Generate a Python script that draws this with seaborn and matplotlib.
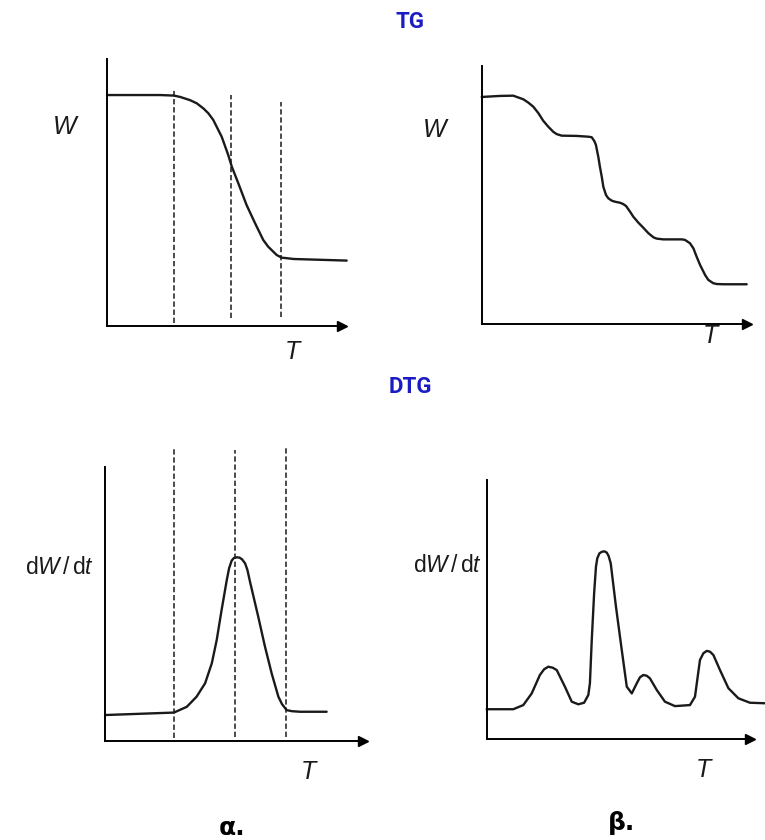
import numpy as np
import pandas as pd
import matplotlib
matplotlib.use('Agg')
import matplotlib.pyplot as plt
import seaborn as sns

# TG, single step (a)
tg_a_T = [0, 22.6, 28.5, 31.1, 35.3, 38.2, 41.0, 43.1, 45.2, 48.8, 51.6, 53.1,
          55.9, 59.4, 63.0, 66.5, 68.6, 70.8, 72.2, 74.3, 76.5, 79.3, 102.0]
tg_a_W = [86.5, 86.5, 86.3, 85.8, 84.6, 83.4, 81.5, 79.7, 77.2, 70.9, 64.0, 59.7,
          53.4, 45.3, 38.5, 32.2, 29.7, 27.8, 26.6, 25.6, 25.4, 25.1, 24.5]
tg_a_marks = [28.5, 52.6, 74.0]
tg_a_marks_top = [88.4, 86.5, 83.9]
tg_a_marks_bot = [1.1, 3.0, 3.4]

# TG, multi step (b)
tg_b_T = [0, 6.9, 11.9, 15.7, 17.6, 19.5, 21.4, 23.2, 25.1, 27.0, 28.3, 30.2,
          35.8, 40.2, 41.5, 42.5, 43.1, 44.0, 44.6, 45.3, 45.9, 46.9, 47.8,
          49.1, 50.3, 52.2, 53.4, 54.5, 56.0, 57.2, 59.1, 61.0, 62.9, 64.8,
          66.0, 68.5, 75.5, 76.7, 78.6, 79.9, 81.1, 82.4, 84.3, 85.5, 87.4,
          88.7, 91.2, 100.0]
tg_b_W = [88.0, 88.4, 88.5, 87.1, 85.8, 84.2, 81.7, 78.8, 76.5, 74.5, 73.6, 73.0,
          72.9, 72.6, 72.4, 70.9, 69.4, 64.8, 61.0, 57.1, 53.2, 50.0, 48.7,
          47.8, 47.4, 47.0, 46.5, 45.7, 43.5, 41.6, 39.3, 37.3, 35.2, 33.6,
          33.1, 32.8, 32.8, 32.6, 31.3, 29.3, 26.1, 22.9, 19.0, 17.1, 15.8,
          15.5, 15.4, 15.4]

# DTG, single peak (a)
dtg_a_T = [0, 26.7, 31.7, 35.5, 38.8, 41.4, 43.3, 45.2, 47.2, 48.1, 49.1, 50.0,
           51.0, 52.1, 53.1, 54.3, 55.2, 56.2, 59.4, 62.0, 64.6, 67.2, 68.6,
           70.4, 72.5, 75.6, 85.9]
dtg_a_R = [9.3, 10.2, 12.3, 16.0, 20.9, 28.2, 36.7, 47.7, 58.6, 62.9, 65.7, 66.7,
           66.9, 66.8, 66.2, 64.7, 62.3, 58.0, 45.2, 34.3, 24.5, 16.0, 13.3,
           11.1, 10.7, 10.5, 10.5]
dtg_a_marks = [26.7, 50.4, 70.0]
dtg_a_marks_top = [107.3, 106.1, 107.2]
dtg_a_marks_bot = [0.9, 1.4, 1.3]

# DTG, several peaks (b)
dtg_b_T = [0, 10.1, 13.9, 17.1, 20.2, 21.8, 23.4, 25.1, 26.6, 29.7, 32.3, 34.8,
           37.0, 38.6, 39.2, 39.9, 40.8, 41.5, 42.0, 42.8, 43.7, 44.7, 45.6,
           46.3, 47.1, 49.1, 51.3, 53.2, 55.1, 57.0, 58.2, 59.5, 60.8, 62.0,
           64.6, 67.7, 71.5, 77.2, 79.1, 81.0, 82.3, 83.6, 84.8, 86.1, 88.6,
           91.8, 95.6, 100.0, 105.7]
dtg_b_R = [11.6, 11.6, 13.2, 17.7, 24.8, 27.0, 28.0, 27.6, 26.7, 20.3, 14.5, 13.5,
           14.1, 17.1, 21.6, 38.3, 56.3, 66.6, 69.8, 71.7, 72.3, 72.5, 72.0,
           70.7, 67.9, 51.1, 34.4, 20.3, 17.7, 21.6, 23.9, 24.8, 24.5, 23.5,
           19.0, 14.5, 12.8, 13.2, 16.4, 30.6, 33.2, 34.1, 33.8, 32.5, 26.7,
           19.7, 15.8, 14.1, 13.9]

FW, FH = 765, 840
INK = '#1a1a1a'
BLUE = '#1c1cc4'

sns.set_theme(style='white')
plt.rcParams['font.family'] = ['Liberation Sans', 'DejaVu Sans']
plt.rcParams['mathtext.fontset'] = 'custom'
plt.rcParams['mathtext.rm'] = 'Liberation Sans'
plt.rcParams['mathtext.it'] = 'Liberation Sans:italic'

fig = plt.figure(figsize=(FW / 100, FH / 100), dpi=100)
fig.patch.set_facecolor('white')


def rect(left, top, right, bottom):
    return [left / FW, 1 - bottom / FH, (right - left) / FW, (bottom - top) / FH]


def put(x, y, s, **kw):
    fig.text(x / FW, 1 - y / FH, s, **kw)


def panel(r, T, V, marks=None, tops=None, bots=None):
    ax = fig.add_axes(r)
    df = pd.DataFrame({'T': T, 'V': V})
    sns.lineplot(data=df, x='T', y='V', ax=ax, color=INK, linewidth=1.7,
                 sort=False, estimator=None)
    if marks is not None:
        for m, t, b in zip(marks, tops, bots):
            ax.plot([m, m], [b, t], color=INK, linewidth=1.1,
                    linestyle=(0, (3.5, 1.8)))
    for ln in ax.lines:
        ln.set_clip_on(False)
        ln.set_solid_joinstyle('round')
    ax.set_xlim(0, 100)
    ax.set_ylim(0, 100)
    ax.set_xticks([])
    ax.set_yticks([])
    ax.set_xlabel('')
    ax.set_ylabel('')
    ax.set_facecolor('none')
    for s in ['top', 'right']:
        ax.spines[s].set_visible(False)
    for s in ['left', 'bottom']:
        ax.spines[s].set_color('black')
        ax.spines[s].set_linewidth(1.4)
    ax.plot(1, 0, '>', color='black', markersize=7, transform=ax.transAxes,
            clip_on=False)
    return ax


panel(rect(107, 59, 342, 326), tg_a_T, tg_a_W, tg_a_marks, tg_a_marks_top, tg_a_marks_bot)
panel(rect(481.7, 66, 746.7, 324), tg_b_T, tg_b_W)
panel(rect(105, 466.7, 363, 740.5), dtg_a_T, dtg_a_R, dtg_a_marks, dtg_a_marks_top, dtg_a_marks_bot)
panel(rect(486.7, 480, 750, 739.3), dtg_b_T, dtg_b_R)

lab = dict(fontsize=18, style='italic', color=INK, ha='center', va='center')
put(65, 127, 'W', **lab)
put(292, 352, 'T', **lab)
put(435, 130, 'W', **lab)
put(710, 336, 'T', **lab)
put(308, 772, 'T', **lab)
put(703, 770, 'T', **lab)

dlab = dict(fontsize=16.5, color=INK, ha='right', va='center')
put(94, 567, r'$\mathrm{d}W\,/\,\mathrm{d}t$', **dlab)
put(482, 565, r'$\mathrm{d}W\,/\,\mathrm{d}t$', **dlab)

ttl = dict(fontsize=16, fontweight='bold', color=BLUE, ha='center', va='center',
           family=['Roboto', 'DejaVu Sans'])
put(410, 22, 'TG', **ttl)
put(410, 387, 'DTG', **ttl)

sub = dict(fontsize=18, fontweight='bold', color='black', ha='center', va='center',
           family=['DejaVu Sans'])
put(232, 828, 'α.', **sub)
put(622, 823, 'β.', **sub)

fig.savefig('out.png', dpi=100, facecolor='white')
